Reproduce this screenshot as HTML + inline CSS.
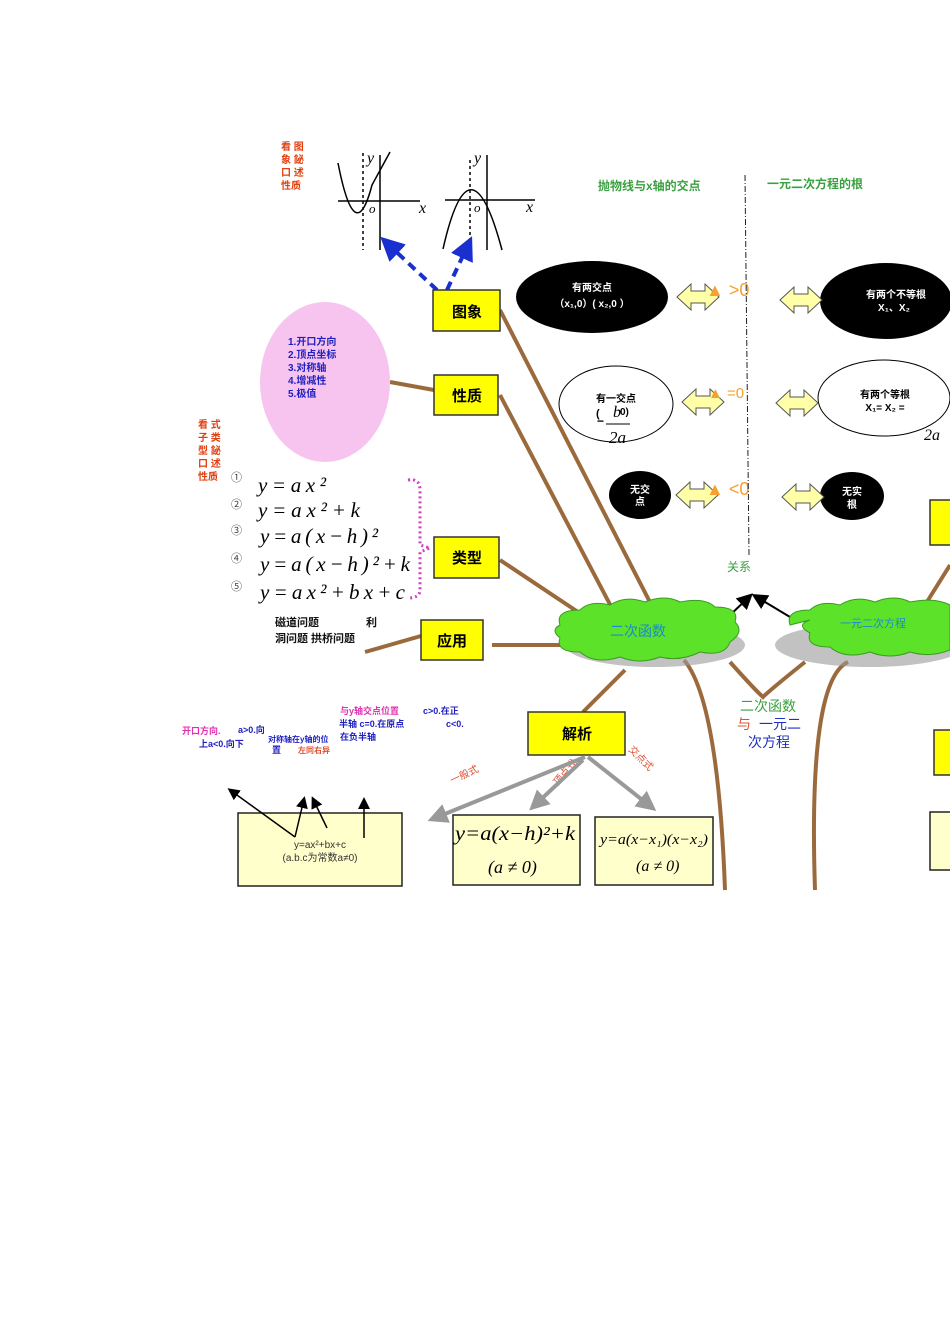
<!DOCTYPE html>
<html><head><meta charset="utf-8"><style>
body{margin:0;background:#fff;width:950px;height:1344px;overflow:hidden}
svg{position:absolute;left:0;top:0}
text{font-family:"Liberation Sans","Noto Sans CJK SC",sans-serif;font-weight:bold}
.m{font-family:"Liberation Serif",serif;font-style:italic;font-weight:normal}
</style></head><body>
<svg width="950" height="1344" viewBox="0 0 950 1344">
<defs>
<marker id="ab" markerWidth="6" markerHeight="6" refX="3" refY="3" orient="auto"><path d="M0,0L6,3L0,6z" fill="#1a2fd0"/></marker>
<marker id="ak" markerWidth="8" markerHeight="8" refX="6" refY="4" orient="auto"><path d="M0,0L8,4L0,8z" fill="#000"/></marker>
<marker id="ag" markerWidth="5" markerHeight="5" refX="3" refY="2.5" orient="auto"><path d="M0,0L5,2.5L0,5z" fill="#999"/></marker>
</defs>
<g fill="#e04010" font-size="10"><text x="281" y="150">看 图</text><text x="281" y="163">象 鉍</text><text x="281" y="176">口 述</text><text x="281" y="189">性质</text>
<text x="198" y="428">看 式</text><text x="198" y="441">子 类</text><text x="198" y="454">型 鉍</text><text x="198" y="467">口 述</text><text x="198" y="480">性质</text></g>
<g stroke="#000" stroke-width="1.5" fill="none">
<line x1="338" y1="201" x2="420" y2="201"/><line x1="380" y1="250" x2="380" y2="155"/>
<path d="M338,163 Q355,250 372,185 L390,152"/>
<line x1="363" y1="153" x2="363" y2="250" stroke-dasharray="3,3"/>
<line x1="445" y1="200" x2="535" y2="200"/><line x1="487" y1="250" x2="487" y2="155"/>
<path d="M443,249 Q470,130 502,250"/>
<line x1="470" y1="160" x2="470" y2="245" stroke-dasharray="3,3"/>
</g>
<g class="m" font-size="16"><text x="367" y="163" class="m">y</text><text x="419" y="213" class="m">x</text><text x="369" y="213" class="m" font-size="13">o</text>
<text x="474" y="163" class="m">y</text><text x="526" y="212" class="m">x</text><text x="474" y="212" class="m" font-size="13">o</text></g>
<g stroke="#1a2fd0" stroke-width="4" stroke-dasharray="9,6" marker-end="url(#ab)"><line x1="437" y1="290" x2="389" y2="245"/><line x1="447" y1="290" x2="467" y2="247"/></g>
<g stroke="#9b6a3c" stroke-width="4" fill="none">
<line x1="500" y1="310" x2="655" y2="612"/><line x1="500" y1="395" x2="615" y2="614"/>
<line x1="390" y1="382" x2="434" y2="390"/><line x1="500" y1="560" x2="590" y2="620"/>
<line x1="365" y1="652" x2="421" y2="636"/><line x1="492" y1="645" x2="560" y2="645"/>
<line x1="583" y1="712" x2="625" y2="670"/>
<path d="M684,660 Q718,700 725,890"/><path d="M730,662 Q755,690 763,697 Q770,690 805,662"/>
<path d="M848,662 Q808,680 815,890"/><path d="M925,605 L950,565"/>
</g>
<ellipse cx="325" cy="382" rx="65" ry="80" fill="#f7c4f0"/>
<g fill="#2020c0" font-size="10"><text x="288" y="345">1.开口方向</text><text x="288" y="358">2.顶点坐标</text><text x="288" y="371">3.对称轴</text><text x="288" y="384">4.增减性</text><text x="288" y="397">5.极值</text></g>
<g fill="#ffff00" stroke="#333" stroke-width="1.5">
<rect x="433" y="290" width="67" height="41"/><rect x="434" y="375" width="64" height="40"/>
<rect x="434" y="537" width="65" height="41"/><rect x="421" y="620" width="62" height="40"/>
<rect x="528" y="712" width="97" height="43"/><rect x="930" y="500" width="30" height="45"/><rect x="934" y="730" width="30" height="45"/>
</g>
<g font-size="15" fill="#000"><text x="452" y="317">图象</text><text x="452" y="401">性质</text><text x="452" y="563">类型</text><text x="437" y="646">应用</text><text x="562" y="739">解析</text></g>
<g font-size="11" fill="#444"><text x="231" y="481" style="font-weight:normal">①</text><text x="231" y="508" style="font-weight:normal">②</text><text x="231" y="534" style="font-weight:normal">③</text><text x="231" y="562" style="font-weight:normal">④</text><text x="231" y="590" style="font-weight:normal">⑤</text></g>
<g font-size="21" class="m"><text x="258" y="492" class="m" textLength="68" lengthAdjust="spacing">y=ax²</text><text x="258" y="517" class="m" textLength="102" lengthAdjust="spacing">y=ax²+k</text><text x="260" y="543" class="m" textLength="118" lengthAdjust="spacing">y=a(x−h)²</text><text x="260" y="571" class="m" textLength="150" lengthAdjust="spacing">y=a(x−h)²+k</text><text x="260" y="599" class="m" textLength="145" lengthAdjust="spacing">y=ax²+bx+c</text></g>
<path d="M408,480 Q420,478 420,490 L420,545 L430,548 L420,552 L420,590 Q420,598 408,598" stroke="#d040c0" stroke-width="3" stroke-dasharray="2,3" fill="none"/>
<g font-size="11" fill="#111"><text x="275" y="626">磁道问题</text><text x="366" y="626">利</text><text x="275" y="642">洞问题  拱桥问题</text></g>
<ellipse cx="592" cy="297" rx="76" ry="36" fill="#000"/><ellipse cx="886" cy="301" rx="66" ry="38" fill="#000"/>
<ellipse cx="616" cy="404" rx="57" ry="38" fill="#fff" stroke="#000"/><ellipse cx="884" cy="398" rx="66" ry="38" fill="#fff" stroke="#000"/>
<ellipse cx="640" cy="495" rx="31" ry="24" fill="#000"/><ellipse cx="852" cy="496" rx="32" ry="24" fill="#000"/>
<g font-size="10" fill="#fff" text-anchor="middle"><text x="592" y="291">有两交点</text><text x="592" y="307">（x₁,0）( x₂,0 ）</text>
<text x="896" y="298">有两个不等根</text><text x="894" y="311">X₁、X₂</text>
<text x="640" y="493">无交</text><text x="640" y="505">点</text><text x="852" y="495">无实</text><text x="852" y="508">根</text></g>
<g font-size="10" fill="#000" text-anchor="middle"><text x="616" y="402">有一交点</text><text x="885" y="398">有两个等根</text><text x="885" y="411">X₁= X₂ =</text></g>
<text x="596" y="417" font-size="11">(</text><text x="613" y="417" class="m" font-size="16">b</text><text x="620" y="415" font-size="10">0)</text>
<line x1="606" y1="424" x2="630" y2="424" stroke="#000"/><text x="597" y="425" font-size="12">−</text><text x="609" y="443" class="m" font-size="17">2a</text>
<text x="924" y="440" class="m" font-size="16">2a</text>
<g fill="#ffffa8" stroke="#555" stroke-width="1">
<path d="M677,297 l14,-13 v7 h14 v-7 l14,13 l-14,13 v-7 h-14 v7z"/><path d="M780,300 l14,-13 v7 h14 v-7 l14,13 l-14,13 v-7 h-14 v7z"/>
<path d="M682,402 l14,-13 v7 h14 v-7 l14,13 l-14,13 v-7 h-14 v7z"/><path d="M776,403 l14,-13 v7 h14 v-7 l14,13 l-14,13 v-7 h-14 v7z"/>
<path d="M676,495 l14,-13 v7 h14 v-7 l14,13 l-14,13 v-7 h-14 v7z"/><path d="M782,497 l14,-13 v7 h14 v-7 l14,13 l-14,13 v-7 h-14 v7z"/>
</g>
<g fill="#f5a030" font-size="18"><text x="706" y="296" style="font-weight:normal">▲ &gt;0</text><text x="708" y="398" style="font-weight:normal;font-size:15px">▲ =0</text><text x="706" y="495" style="font-weight:normal">▲ &lt;0</text></g>
<line x1="745" y1="175" x2="749" y2="555" stroke="#222" stroke-dasharray="6,2,1,2"/>
<g fill="#3aa040" font-size="12"><text x="598" y="190">抛物线与x轴的交点</text><text x="767" y="188">一元二次方程的根</text><text x="727" y="571" style="font-weight:normal">关系</text></g>
<g stroke="#000" stroke-width="2" marker-end="url(#ak)"><line x1="728" y1="617" x2="750" y2="596"/><line x1="795" y1="620" x2="755" y2="596"/></g>
<g><ellipse cx="655" cy="645" rx="90" ry="22" fill="#999" opacity=".6"/><ellipse cx="870" cy="645" rx="95" ry="22" fill="#999" opacity=".6"/></g>
<g fill="#5de22a" stroke="#3a9a20" stroke-width="1">
<path d="M560,625 q-5,-15 20,-15 q10,-10 30,-5 q15,-10 35,-3 q20,-8 35,0 q25,-5 35,5 q25,0 20,15 q10,10 -5,20 q-5,15 -30,10 q-20,10 -40,5 q-20,8 -40,0 q-25,8 -40,-5 q-25,0 -20,-14 q-10,-8 0,-13z"/>
<path d="M790,625 q-5,-15 20,-15 q10,-10 30,-5 q15,-10 35,-3 q20,-8 35,0 q25,-5 40,3 v45 q-20,8 -40,2 q-20,8 -40,0 q-25,8 -40,-5 q-25,0 -20,-14 q-15,-8 0,-13z"/>
</g>
<text x="610" y="636" fill="#1a8ad0" font-size="14" style="font-weight:normal">二次函数</text>
<text x="840" y="627" fill="#1a8ad0" font-size="11" style="font-weight:normal">一元二次方程</text>
<g font-size="14"><text x="740" y="711" fill="#3aa040" style="font-weight:normal">二次函数</text><text x="737" y="729" fill="#e05030" style="font-weight:normal">与</text><text x="759" y="729" fill="#2030c0" style="font-weight:normal">一元二</text><text x="748" y="747" fill="#2030c0" style="font-weight:normal">次方程</text></g>
<g font-size="9"><text x="340" y="714" fill="#e030b0">与y轴交点位置</text><text x="423" y="714" fill="#2020c0">c&gt;0.在正</text>
<text x="339" y="727" fill="#2020c0">半轴  c=0.在原点</text><text x="446" y="727" fill="#2020c0">c&lt;0.</text>
<text x="182" y="734" fill="#e030b0">开口方向.</text><text x="238" y="733" fill="#2020c0">a&gt;0.向</text><text x="199" y="747" fill="#2020c0">上a&lt;0.向下</text>
<text x="268" y="742" fill="#2020c0" font-size="8">对称轴在y轴的位</text><text x="340" y="740" fill="#2020c0">在负半轴</text>
<text x="272" y="753" fill="#2020c0">置</text><text x="298" y="753" fill="#e05030" font-size="8">左同右异</text></g>
<g fill="#e05030" font-size="10"><text x="452" y="784" transform="rotate(-25 452 784)" style="font-weight:normal">一般式</text><text x="558" y="786" transform="rotate(-50 558 786)" style="font-weight:normal">顶点式</text><text x="628" y="750" transform="rotate(45 628 750)" style="font-weight:normal">交点式</text></g>
<g stroke="#999" stroke-width="4" marker-end="url(#ag)"><line x1="585" y1="757" x2="435" y2="818"/><line x1="583" y1="760" x2="535" y2="805"/><line x1="588" y1="757" x2="650" y2="806"/></g>
<g fill="#ffffcc" stroke="#222" stroke-width="1.5"><rect x="238" y="813" width="164" height="73"/><rect x="453" y="815" width="127" height="70"/><rect x="595" y="817" width="118" height="68"/><rect x="930" y="812" width="30" height="58"/></g>
<g stroke="#000" stroke-width="1.5" marker-end="url(#ak)" fill="none"><polyline points="295,837 230,790"/><line x1="295" y1="837" x2="304" y2="799"/><line x1="327" y1="828" x2="313" y2="799"/><line x1="364" y1="838" x2="364" y2="800"/></g>
<text x="320" y="848" text-anchor="middle" font-size="10" fill="#333" style="font-weight:normal">y=ax²+bx+c</text>
<text x="320" y="861" text-anchor="middle" font-size="10" fill="#333" style="font-weight:normal">(a.b.c为常数a≠0)</text>
<text x="455" y="840" class="m" font-size="20" textLength="120" lengthAdjust="spacingAndGlyphs">y=a(x−h)²+k</text><text x="488" y="873" class="m" font-size="18">(a ≠ 0)</text>
<text x="600" y="844" class="m" font-size="15" textLength="108" lengthAdjust="spacingAndGlyphs">y=a(x−x₁)(x−x₂)</text><text x="636" y="871" class="m" font-size="16">(a ≠ 0)</text>
</svg>
</body></html>
